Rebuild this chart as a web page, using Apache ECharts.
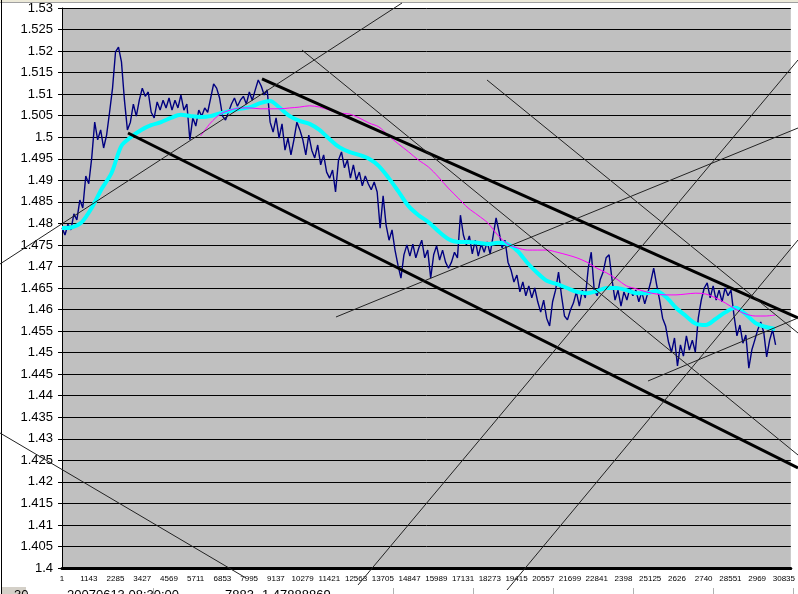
<!DOCTYPE html>
<html>
<head>
<meta charset="utf-8">
<script src="https://cdn.jsdelivr.net/npm/echarts@6/dist/echarts.min.js"></script>
<style>html,body{margin:0;padding:0;background:#fff;}#c{width:798px;height:594px;}</style>
</head>
<body>
<div id="c"></div>
<script>
// ---- data ----
const xTickLabels = ['1','1143','2285','3427','4569','5711','6853','7995','9137','10279','11421','12563','13705','14847','15989','17131','18273','19415','20557','21699','22841','2398','25125','2626','2740','28551','2969','30835'];
const xTickStep = 1142;
const xMax = 31130;
const xLeftEdge = -2622;   // row value at the left edge of the whole chart area
const yMin = 1.4, yMax = 1.53, yStep = 0.005;

const priceStart = 0, priceStep = 127;
const price = [1.479,1.4773,1.4798,1.4785,1.4822,1.4808,1.4854,1.4836,1.491,1.4892,1.4952,1.5035,1.4994,1.5017,1.4975,1.5005,1.5058,1.5114,1.5198,1.5209,1.5175,1.5086,1.5017,1.5035,1.5077,1.5049,1.5086,1.5114,1.5095,1.5105,1.5058,1.5045,1.5082,1.5063,1.5086,1.5068,1.5091,1.5063,1.5086,1.5068,1.5098,1.5063,1.5077,1.4994,1.5045,1.5026,1.5063,1.5049,1.5068,1.5058,1.5091,1.5124,1.5114,1.5091,1.5049,1.504,1.5058,1.5077,1.5091,1.5072,1.5086,1.5095,1.5077,1.5105,1.5086,1.511,1.5133,1.5119,1.5098,1.511,1.5035,1.5012,1.5045,1.4998,1.5031,1.497,1.4998,1.4959,1.4994,1.5035,1.5017,1.4994,1.4959,1.5005,1.497,1.4952,1.4982,1.4936,1.4959,1.4919,1.4905,1.4924,1.4873,1.4947,1.4966,1.4929,1.4947,1.4905,1.4936,1.4901,1.4919,1.4887,1.491,1.4892,1.4878,1.4896,1.4873,1.4789,1.4864,1.4796,1.4761,1.4785,1.4738,1.4703,1.4673,1.4727,1.475,1.4724,1.4752,1.472,1.4743,1.4761,1.472,1.4738,1.4673,1.4727,1.4748,1.4715,1.4738,1.471,1.4696,1.471,1.4733,1.472,1.4819,1.4773,1.475,1.4771,1.4729,1.4761,1.4724,1.4752,1.4733,1.4757,1.4729,1.4771,1.4813,1.478,1.4743,1.4761,1.471,1.4692,1.4664,1.468,1.4641,1.4664,1.4632,1.4655,1.4627,1.465,1.4618,1.4594,1.4622,1.458,1.4562,1.4618,1.4645,1.4687,1.4632,1.4585,1.4576,1.4599,1.4615,1.4641,1.4608,1.4645,1.4627,1.4696,1.4733,1.4645,1.4632,1.4669,1.4687,1.472,1.4727,1.4669,1.4622,1.4645,1.4608,1.4641,1.4622,1.465,1.4632,1.4645,1.4618,1.4641,1.4613,1.4638,1.4664,1.4696,1.4657,1.4622,1.458,1.4562,1.4524,1.4501,1.4534,1.4469,1.4518,1.4492,1.4539,1.4506,1.4529,1.4501,1.458,1.4622,1.465,1.4662,1.4627,1.4655,1.4622,1.4645,1.4618,1.465,1.4632,1.4645,1.4587,1.4539,1.4564,1.4522,1.4541,1.4464,1.4506,1.4529,1.4553,1.4571,1.4548,1.449,1.4529,1.4553,1.4518];

const maFastStart = 0, maStep = 423;
const maFast = [1.4789,1.4791,1.4803,1.4836,1.488,1.4917,1.498,1.5001,1.5017,1.5028,1.5035,1.5045,1.5052,1.5049,1.5047,1.5049,1.5056,1.5061,1.5066,1.507,1.5079,1.5084,1.5068,1.5049,1.5038,1.5031,1.5017,1.4996,1.4977,1.4966,1.4959,1.495,1.4933,1.4905,1.4873,1.484,1.4819,1.4803,1.4782,1.4764,1.4757,1.4757,1.4755,1.4752,1.4755,1.4752,1.4736,1.4708,1.4685,1.4666,1.4659,1.465,1.4641,1.4638,1.4643,1.465,1.465,1.4645,1.4638,1.4638,1.4643,1.4629,1.4604,1.4585,1.4567,1.4564,1.4578,1.4594,1.4604,1.459,1.4569,1.456,1.4555];

const maSlowStart = 5921;
const maSlow = [1.5003,1.5033,1.5054,1.5063,1.5068,1.5068,1.5066,1.5066,1.5066,1.5068,1.507,1.5073,1.507,1.5063,1.5056,1.5054,1.5045,1.5033,1.5024,1.5003,1.4984,1.4966,1.4947,1.4931,1.4908,1.4882,1.4859,1.4836,1.4819,1.4801,1.4773,1.4752,1.4743,1.4738,1.4738,1.4738,1.4733,1.4727,1.472,1.471,1.4696,1.4685,1.4671,1.4655,1.4648,1.4641,1.4636,1.4634,1.4634,1.4636,1.4638,1.4636,1.4627,1.4615,1.4601,1.459,1.4585,1.4585,1.4587];

// drawn trend lines: [x1, y1, x2, y2] in row / price units
const trendThick = [
  [8459, 1.51352, 31130, 1.45804],
  [2792, 1.50098, 31130, 1.42321]
];
const trendThin = [
  [-2622, 1.47057, 14381, 1.53116],
  [-2622, 1.43134, 7782, 1.39768],
  [10151, 1.52025, 31130, 1.42623],
  [17976, 1.51329, 31130, 1.45455],
  [11589, 1.45827, 31130, 1.50214],
  [12520, 1.39605, 31130, 1.51793],
  [18822, 1.39489, 31130, 1.47614],
  [24785, 1.44341, 31130, 1.45804]
];

// spreadsheet row visible under the chart
const sheetRow = ['30', '20070613 08:30:00', '7883', '1.47888869'];

// ---- chart ----
const chart = echarts.init(document.getElementById('c'), null, {renderer: 'canvas'});
const toPts = (arr, start, step) => arr.map((v, i) => [start + i * step, v]);

const series = [
  {type: 'line', name: 'price', data: toPts(price, priceStart, priceStep), symbol: 'none',
   lineStyle: {color: '#000080', width: 1.4}, z: 2},
  {type: 'line', name: 'ma1', data: toPts(maFast, maFastStart, maStep), symbol: 'none', smooth: 0.3,
   lineStyle: {color: '#00FFFF', width: 4}, z: 3},
  {type: 'line', name: 'ma2', data: toPts(maSlow, maSlowStart, maStep), symbol: 'none', smooth: 0.3,
   lineStyle: {color: '#FF00FF', width: 1}, z: 4}
];
trendThick.forEach(t => series.push({type: 'line', xAxisIndex: 1, yAxisIndex: 1,
  data: [[t[0], t[1]], [t[2], t[3]]], symbol: 'none', clip: false,
  silent: true, lineStyle: {color: '#000', width: 3}, z: 5}));
trendThin.forEach(t => series.push({type: 'line', xAxisIndex: 1, yAxisIndex: 1,
  data: [[t[0], t[1]], [t[2], t[3]]], symbol: 'none', clip: false,
  silent: true, lineStyle: {color: '#222', width: 1}, z: 5}));

const cellFont = '13px "Liberation Sans", Arial, sans-serif';
const cellY = 589;

chart.setOption({
  animation: false,
  backgroundColor: '#ffffff',
  grid: [
    {left: 62, right: 0, top: 8, bottom: 26, show: true, backgroundColor: '#C0C0C0', borderWidth: 0},
    {left: 0, right: 0, top: 8, bottom: 26, show: false}
  ],
  xAxis: [{
    type: 'value', min: 0, max: xMax, interval: xTickStep, gridIndex: 0,
    axisLine: {show: true, onZero: false, lineStyle: {color: '#000', width: 3}},
    axisTick: {show: false},
    splitLine: {show: false},
    axisLabel: {
      color: '#000', fontSize: 8, fontFamily: '"Liberation Sans", Arial, sans-serif',
      margin: 7, showMaxLabel: false,
      formatter: v => {
        const k = Math.round(v / xTickStep);
        return Math.abs(v - k * xTickStep) < 1e-6 && k < xTickLabels.length ? xTickLabels[k] : '';
      }
    }
  }, {
    type: 'value', gridIndex: 1, min: xLeftEdge, max: xMax, show: false
  }],
  yAxis: [{
    type: 'value', min: yMin, max: yMax, interval: yStep, gridIndex: 0,
    axisLine: {show: true, lineStyle: {color: '#000', width: 1}},
    axisTick: {show: true, length: 4, lineStyle: {color: '#000'}},
    splitLine: {show: true, lineStyle: {color: '#000', width: 1}},
    axisLabel: {color: '#000', fontSize: 13, fontFamily: '"Liberation Sans", Arial, sans-serif', margin: 9,
      formatter: v => String(parseFloat(v.toFixed(3)))}
  }, {
    type: 'value', gridIndex: 1, min: yMin, max: yMax, show: false
  }],
  graphic: [
    {type: 'rect', shape: {x: 0, y: 0, width: 798, height: 2}, style: {fill: '#ECE9D8'}, silent: true},
    {type: 'line', shape: {x1: 0, y1: 2.5, x2: 798, y2: 2.5}, style: {stroke: '#A0A0A0', lineWidth: 1}, silent: true},
    {type: 'line', shape: {x1: 1.5, y1: 0, x2: 1.5, y2: 594}, style: {stroke: '#000', lineWidth: 1}, silent: true},
    {type: 'rect', shape: {x: 2, y: 587, width: 24, height: 7}, style: {fill: '#D4D0C8'}, silent: true},
    {type: 'text', style: {x: 14, y: cellY, text: sheetRow[0], font: cellFont, fill: '#000', textVerticalAlign: 'top'}, silent: true},
    {type: 'text', style: {x: 67, y: cellY, text: sheetRow[1], font: cellFont, fill: '#000', textVerticalAlign: 'top'}, silent: true},
    {type: 'text', style: {x: 254, y: cellY, text: sheetRow[2], font: cellFont, fill: '#000', textAlign: 'right', textVerticalAlign: 'top'}, silent: true},
    {type: 'text', style: {x: 262, y: cellY, text: sheetRow[3], font: cellFont, fill: '#000', textVerticalAlign: 'top'}, silent: true},
    ...[153, 393, 473, 553, 633, 713, 793].map(x => ({type: 'line', shape: {x1: x + 0.5, y1: 588, x2: x + 0.5, y2: 594},
      style: {stroke: '#B0B0B0', lineWidth: 1}, silent: true}))
  ],
  series: series
});
</script>
</body>
</html>
